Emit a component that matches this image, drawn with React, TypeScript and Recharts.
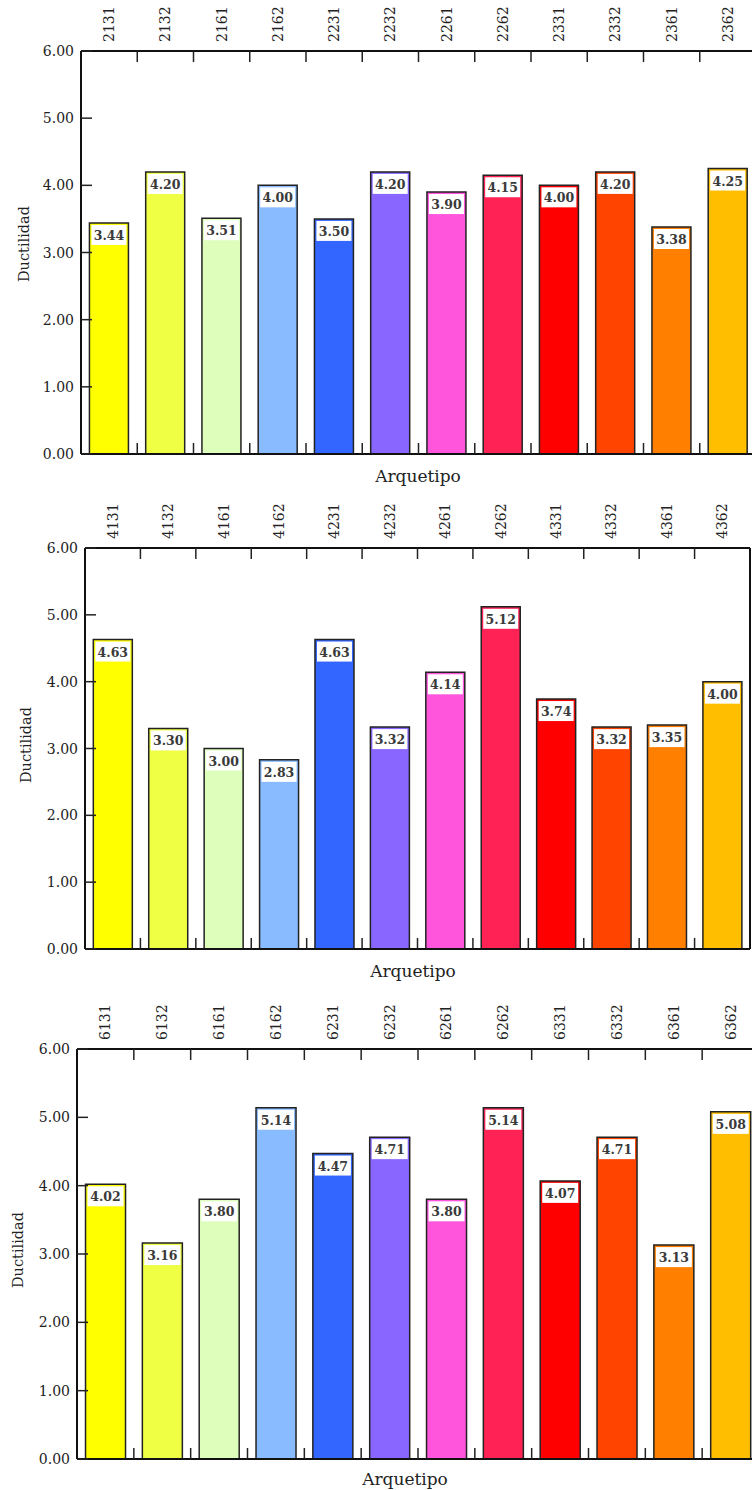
import React from 'react';
import { BarChart, Bar, XAxis, YAxis, Cell } from 'recharts';

const cats1 = ['2131', '2132', '2161', '2162', '2231', '2232', '2261', '2262', '2331', '2332', '2361', '2362'];
const vals1 = [3.44, 4.2, 3.51, 4.0, 3.5, 4.2, 3.9, 4.15, 4.0, 4.2, 3.38, 4.25];

const cats2 = ['4131', '4132', '4161', '4162', '4231', '4232', '4261', '4262', '4331', '4332', '4361', '4362'];
const vals2 = [4.63, 3.3, 3.0, 2.83, 4.63, 3.32, 4.14, 5.12, 3.74, 3.32, 3.35, 4.0];

const cats3 = ['6131', '6132', '6161', '6162', '6231', '6232', '6261', '6262', '6331', '6332', '6361', '6362'];
const vals3 = [4.02, 3.16, 3.8, 5.14, 4.47, 4.71, 3.8, 5.14, 4.07, 4.71, 3.13, 5.08];

const colors = [
  '#FFFF00', '#EEFF44', '#DDFFBB', '#88BBFF', '#3366FF', '#8866FF',
  '#FF55DD', '#FF2255', '#FF0000', '#FF4400', '#FF8000', '#FFBF00',
];
const yTicks = [0, 1, 2, 3, 4, 5, 6];

const FONT = '"DejaVu Serif", serif';
const INK = '#222';
const TOP_H = 51;
const BOT_H = 10;
const TICK = 11;

interface PanelProps {
  cats: string[];
  vals: number[];
  top: number;
  left: number;
  right: number;
  plotH: number;
}

function Panel({ cats, vals, top, left, right, plotH }: PanelProps) {
  const data = cats.map((c, i) => ({ name: c, value: vals[i] }));
  const W = right + 14;
  const H = TOP_H + plotH + BOT_H;
  const band = (right - left) / cats.length;
  const plotBottom = TOP_H + plotH;
  const last = cats.length - 1;

  const topTick = (p: any) => (
    <g>
      <text
        transform={`translate(${p.x + 5},${TOP_H - 9}) rotate(-90)`}
        textAnchor="start" fontFamily={FONT} fontSize={14} fill={INK}
      >
        {p.payload.value}
      </text>
      {p.index < last && (
        <line x1={p.x + band / 2} x2={p.x + band / 2} y1={TOP_H} y2={TOP_H + TICK} stroke={INK} strokeWidth={1.5} />
      )}
    </g>
  );

  const bottomTick = (p: any) =>
    p.index < last ? (
      <line x1={p.x + band / 2} x2={p.x + band / 2} y1={plotBottom - TICK} y2={plotBottom} stroke={INK} strokeWidth={1.5} />
    ) : <g />;

  const leftTick = (p: any) => (
    <g>
      <text x={left - 7} y={p.y} textAnchor="end" dominantBaseline="central" fontFamily={FONT} fontSize={14} fill={INK}>
        {Number(p.payload.value).toFixed(2)}
      </text>
      <line x1={left} x2={left + TICK} y1={p.y} y2={p.y} stroke={INK} strokeWidth={1.5} />
    </g>
  );

  const rightTick = (p: any) => (
    <line x1={right - TICK} x2={right} y1={p.y} y2={p.y} stroke={INK} strokeWidth={1.5} />
  );

  const renderLabel = (p: any) => {
    const x = Number(p.x);
    const y = Number(p.y);
    const w = Number(p.width);
    return (
      <g>
        <rect x={x + 2} y={y + 2} width={w - 4} height={20} fill="#fff" />
        <text x={x + w / 2} y={y + 12.5} textAnchor="middle" dominantBaseline="central"
          fontFamily={FONT} fontWeight="bold" fontSize={12.5} fill="#3a3a3a">
          {Number(p.value).toFixed(2)}
        </text>
      </g>
    );
  };

  const spine = { stroke: '#111', strokeWidth: 2 };

  return (
    <div style={{ position: 'absolute', left: 0, top }}>
      <BarChart width={W} height={H} data={data} margin={{ top: 0, right: 0, bottom: 0, left: 0 }} barCategoryGap="15%">
        <XAxis xAxisId="top" orientation="top" dataKey="name" height={TOP_H} axisLine={spine}
          tickLine={false} tick={topTick} interval={0} />
        <XAxis xAxisId="bottom" orientation="bottom" dataKey="name" height={BOT_H} axisLine={spine}
          tickLine={false} tick={bottomTick} interval={0} />
        <YAxis yAxisId="left" width={left} domain={[0, 6]} ticks={yTicks} axisLine={spine}
          tickLine={false} tick={leftTick} interval={0} />
        <YAxis yAxisId="right" orientation="right" width={14} domain={[0, 6]} ticks={yTicks} axisLine={spine}
          tickLine={false} tick={rightTick} interval={0} />
        <Bar dataKey="value" xAxisId="top" yAxisId="left" stroke={INK} strokeWidth={1.5}
          isAnimationActive={false} label={renderLabel}>
          {data.map((d, i) => <Cell key={d.name} fill={colors[i]} />)}
        </Bar>
      </BarChart>
    </div>
  );
}

const titleStyle: React.CSSProperties = {
  position: 'absolute', fontFamily: FONT, color: INK, whiteSpace: 'nowrap', lineHeight: 1,
};

function XTitle({ x, y }: { x: number; y: number }) {
  return (
    <div style={{ ...titleStyle, left: x, top: y, fontSize: 17, transform: 'translate(-50%,-50%)' }}>Arquetipo</div>
  );
}

function YTitle({ x, y }: { x: number; y: number }) {
  return (
    <div style={{ ...titleStyle, left: x, top: y, fontSize: 14.5, transform: 'translate(-50%,-50%) rotate(-90deg)' }}>Ductilidad</div>
  );
}

export default function App() {
  return (
    <div style={{ position: 'absolute', left: 0, top: 0, width: 752, height: 1490, overflow: 'hidden', background: '#fff' }}>
      <Panel cats={cats1} vals={vals1} top={0} left={81} right={756} plotH={403} />
      <Panel cats={cats2} vals={vals2} top={497} left={85} right={750} plotH={401} />
      <Panel cats={cats3} vals={vals3} top={998} left={77} right={759} plotH={410} />
      <XTitle x={418} y={476} />
      <XTitle x={413} y={971} />
      <XTitle x={405} y={1479} />
      <YTitle x={24} y={244} />
      <YTitle x={26} y={745} />
      <YTitle x={18} y={1250} />
    </div>
  );
}
